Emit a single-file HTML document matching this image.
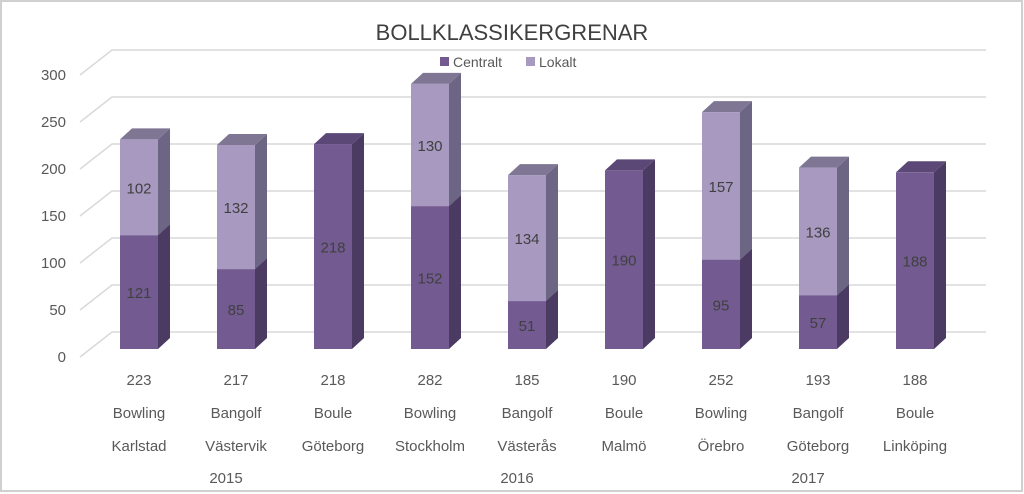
<!DOCTYPE html>
<html><head><meta charset="utf-8"><style>
body{margin:0;background:#fff}
svg{display:block;font-family:"Liberation Sans",Calibri,sans-serif}
</style></head><body>
<svg id="c" width="1024" height="494" viewBox="0 0 1024 494">
<rect x="1" y="1" width="1021" height="490" fill="#fff" stroke="#d0d0d0" stroke-width="2"/>
<text x="512" y="40" text-anchor="middle" font-size="22" fill="#404040">BOLLKLASSIKERGRENAR</text>
<g>
<g><rect x="440" y="57" width="9" height="9" fill="#735a91"/><text x="453" y="67" font-size="14" fill="#595959">Centralt</text></g>
<g><rect x="526" y="57" width="9" height="9" fill="#a799bf"/><text x="539" y="67" font-size="14" fill="#595959">Lokalt</text></g>
</g>
<g id="grid"></g>
<g id="bars"></g>
<g id="labels"></g>
</svg>
<script>
const totals=[223,217,218,282,185,190,252,193,188];
const sports=["Bowling","Bangolf","Boule","Bowling","Bangolf","Boule","Bowling","Bangolf","Boule"];
const cities=["Karlstad","Västervik","Göteborg","Stockholm","Västerås","Malmö","Örebro","Göteborg","Linköping"];
const years=["2015","2016","2017"];
const centralt=[121,85,218,152,51,190,95,57,188];
const lokalt=[102,132,0,130,134,0,157,136,0];
const ticks=[0,50,100,150,200,250,300];
const NS="http://www.w3.org/2000/svg";
const base=349,k=0.94,dx=12,dy=-11,bw=38,x0=120,step=97;
const yF=v=>base-v*k;
function el(t,a,p){const e=document.createElementNS(NS,t);for(const n in a)e.setAttribute(n,a[n]);p.appendChild(e);return e;}
const g=document.getElementById('grid');
ticks.forEach(t=>{
 const y=yF(t);
 const l=el('polyline',{points:`80,${y+8} ${112},${y-17} 986,${y-17}`,fill:'none',stroke:'#d9d9d9','stroke-width':1.5},g);
 
 
 const tx=el('text',{x:66,y:y+13,'text-anchor':'end','font-size':15,fill:'#595959'},g);
 tx.textContent=t;
 
 
});
const b=document.getElementById('bars');
function seg(x,v0,v1,cols,name,label){
 const yb=yF(v0),yt=yF(v1);
 const grp=el('g',{},b);
 
 
 el('polygon',{points:`${x+bw},${yb} ${x+bw+dx},${yb+dy} ${x+bw+dx},${yt+dy} ${x+bw},${yt}`,fill:cols[1]},grp);
 el('polygon',{points:`${x},${yt} ${x+dx},${yt+dy} ${x+bw+dx},${yt+dy} ${x+bw},${yt}`,fill:cols[2]},grp);
 el('rect',{x:x,y:yt,width:bw,height:yb-yt,fill:cols[0]},grp);
 const t=el('text',{x:x+bw/2,y:(yb+yt)/2+6,'text-anchor':'middle','font-size':15,fill:'#404040'},grp);
 t.textContent=label;
}
const cC=['#735a91','#4b3b63','#5c4877'],cL=['#a799bf','#6d6584','#7e7692'];
const L=document.getElementById('labels');
totals.forEach((tot,i)=>{
 const x=x0+i*step;
 seg(x,0,centralt[i],cC,'bar-centralt-'+i,centralt[i]);
 if(lokalt[i]>0)seg(x,centralt[i],centralt[i]+lokalt[i],cL,'bar-lokalt-'+i,lokalt[i]);
 [[tot,385],[sports[i],418],[cities[i],451]].forEach((r,j)=>{
  const t=el('text',{x:x+bw/2,y:r[1],'text-anchor':'middle','font-size':15,fill:'#595959'},L);
  t.textContent=r[0];
  
  
 });
});
years.forEach((yr,j)=>{
 const x=x0+(j*3+1)*step+bw/2-10;
 const t=el('text',{x:x,y:483,'text-anchor':'middle','font-size':15,fill:'#595959'},L);
 t.textContent=yr;
 
 
});
</script>
</body></html>
